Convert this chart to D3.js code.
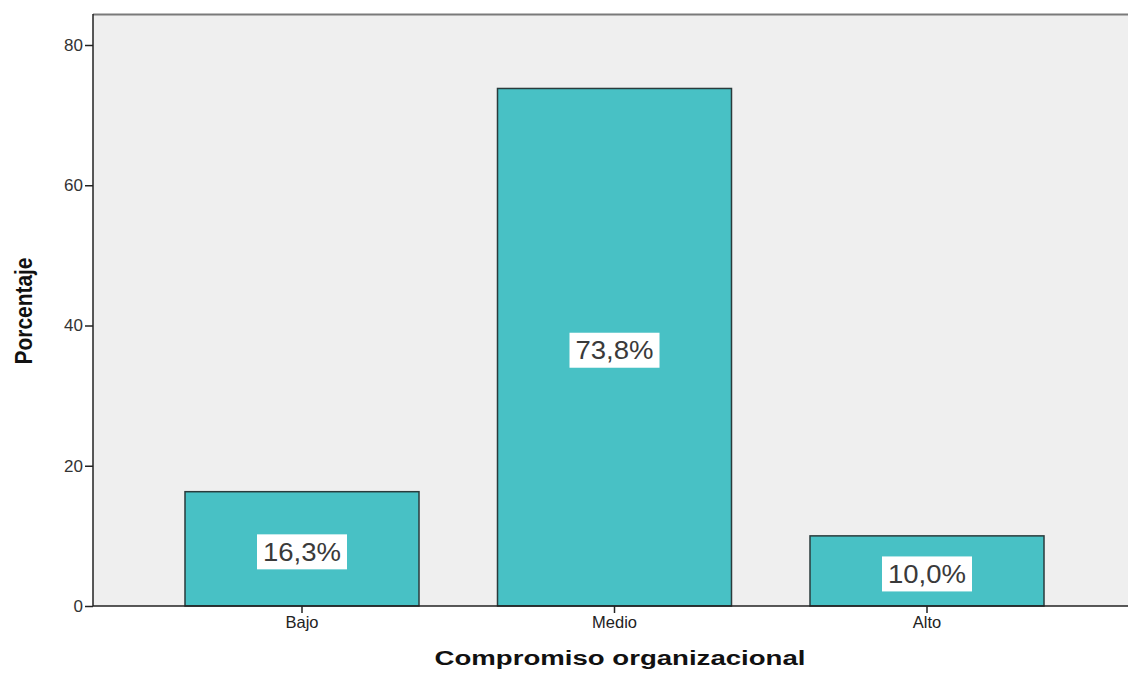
<!DOCTYPE html>
<html><head><meta charset="utf-8">
<script src="https://cdn.jsdelivr.net/npm/d3@7"></script>
<style>body{margin:0;background:#fff}</style>
</head><body>
<script>
const categories = ["Bajo", "Medio", "Alto"];
const values = [16.3, 73.8, 10.0];
const yTicks = [0, 20, 40, 60, 80];
const valueLabels = ["16,3%", "73,8%", "10,0%"];

const W = 1128, H = 675;
const svg = d3.select("body").append("svg").attr("width", W).attr("height", H);
const pLeft = 93, pRight = 1128, pTop = 14, pBottom = 606;
const FONT = "Liberation Sans, Arial, sans-serif";

const x = d3.scaleBand().domain(categories).range([145.75, 1083.25]).paddingInner(0.2512).paddingOuter(0.1256);
const y = d3.scaleLinear().domain([0, 80]).range([pBottom, 45]);

svg.append("rect").attr("x", pLeft).attr("y", pTop).attr("width", pRight-pLeft).attr("height", pBottom-pTop).attr("fill", "#efefef");
svg.append("line").attr("x1", pLeft).attr("x2", pRight).attr("y1", pTop+0.5).attr("y2", pTop+0.5).attr("stroke", "#7a7a7a").attr("stroke-width", 2);

svg.selectAll("rect.bar").data(values).enter().append("rect").attr("class","bar")
  .attr("x", (d,i)=>x(categories[i])).attr("y", d=>y(d))
  .attr("width", x.bandwidth()).attr("height", d=>pBottom-y(d))
  .attr("fill", "#48c1c5").attr("stroke", "#2a3b3c").attr("stroke-width", 1.5);

// labels
const lg = svg.selectAll("g.lbl").data(values).enter().append("g").attr("class","lbl")
  .attr("transform", (d,i)=>`translate(${x(categories[i])+x.bandwidth()/2},${y(d/2)+3})`);
lg.append("rect").attr("x", -45).attr("y", -17.5).attr("width", 90).attr("height", 35).attr("fill", "#fff");
lg.append("text").attr("text-anchor","middle").attr("dy","0.36em")
  .attr("textLength", 78).attr("lengthAdjust","spacingAndGlyphs")
  .style("font-family",FONT).style("font-size","25px").attr("fill","#3a3a3a")
  .text((d,i)=>valueLabels[i]);

// y axis
const ya = svg.append("g").attr("transform", `translate(${pLeft},0)`)
  .call(d3.axisLeft(y).tickValues(yTicks).tickSize(8).tickPadding(2).tickFormat(d3.format("d")));
ya.select(".domain").attr("d", `M0,${pTop}V${pBottom}`).attr("stroke","#222").attr("stroke-width",1.5);
ya.selectAll(".tick line").attr("stroke","#222").attr("stroke-width",1.5);
ya.selectAll(".tick text").style("font-family",FONT).style("font-size","17px").attr("fill","#333");

// x axis
const xa = svg.append("g").attr("transform", `translate(0,${pBottom})`)
  .call(d3.axisBottom(x).tickSize(7).tickPadding(3));
xa.select(".domain").attr("d", `M${pLeft},0H${pRight}`).attr("stroke","#222").attr("stroke-width",1.5);
xa.selectAll(".tick line").attr("stroke","#222").attr("stroke-width",1.5);
xa.selectAll(".tick text").style("font-family",FONT).style("font-size","16.5px").attr("fill","#222");

svg.append("text").attr("x", 620).attr("y", 665).attr("text-anchor","middle")
  .attr("textLength", 371).attr("lengthAdjust","spacingAndGlyphs")
  .style("font-family",FONT).style("font-size","20px").style("font-weight","bold")
  .attr("fill","#111").text("Compromiso organizacional");
svg.append("text").attr("transform","translate(32,311) rotate(-90)").attr("text-anchor","middle")
  .attr("textLength", 107).attr("lengthAdjust","spacingAndGlyphs")
  .style("font-family",FONT).style("font-size","23px").style("font-weight","bold")
  .attr("fill","#111").text("Porcentaje");
</script>
</body></html>
